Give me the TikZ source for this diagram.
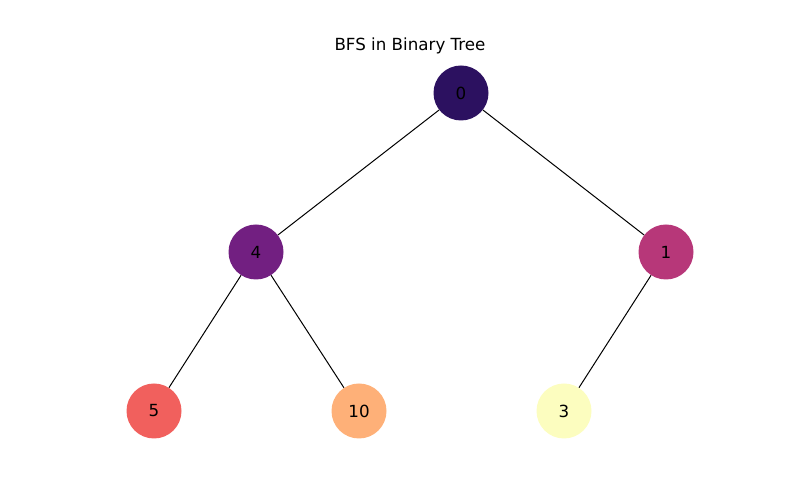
\documentclass[tikz,border=0pt]{standalone}
\usepackage{fontspec}
\setmainfont{DejaVu Sans}
\usepackage{tikz}
\usetikzlibrary{positioning}

\definecolor{magmaA}{HTML}{2C1160}
\definecolor{magmaB}{HTML}{721F81}
\definecolor{magmaC}{HTML}{B73779}
\definecolor{magmaD}{HTML}{F1605D}
\definecolor{magmaE}{HTML}{FEB078}
\definecolor{magmaF}{HTML}{FCFDBF}

\begin{document}
\begin{tikzpicture}[x=1pt, y=1pt,
    vertex/.style={circle, minimum size=55pt, inner sep=0pt, font=\fontsize{16.7}{19}\selectfont},
    edge/.style={draw=black, line width=1pt}]
\useasboundingbox (0,0) rectangle (800,500);

% Title
\node[font=\fontsize{16.7}{19}\selectfont] (title) at (410,454) {BFS in Binary Tree};

% Nodes
\node[vertex, fill=magmaA] (n0) at (461,407) {0};
\node[vertex, fill=magmaB] (n4) at (256,248) {4};
\node[vertex, fill=magmaC] (n1) at (666,248) {1};
\node[vertex, fill=magmaD] (n5) at (154,89) {5};
\node[vertex, fill=magmaE] (n10) at (359,89) {10};
\node[vertex, fill=magmaF] (n3) at (564,89) {3};

% Edges
\foreach \a/\b in {n0/n4, n0/n1, n4/n5, n4/n10, n1/n3} {
    \draw[edge] (\a) -- (\b);
}
\end{tikzpicture}
\end{document}
